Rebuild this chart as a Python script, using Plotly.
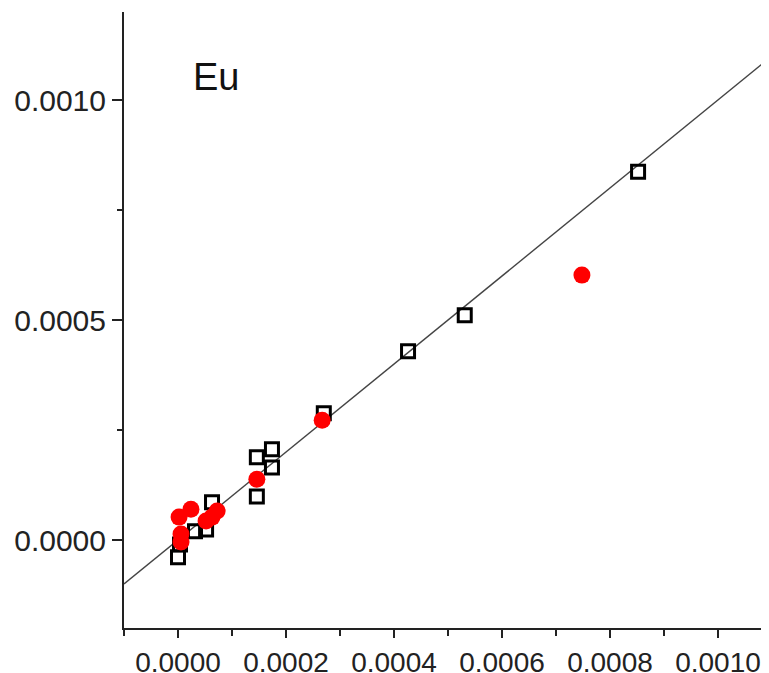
import plotly.graph_objects as go

# Black open squares
sq_x = [0.000852, 0.000531, 0.000426, 0.000270, 0.000174, 0.000146, 0.000174, 0.000146,
        0.000063, 0.000052, 0.0000315, 0.0, 0.0000037]
sq_y = [0.000837, 0.000511, 0.000429, 0.000288, 0.000206, 0.000188, 0.000165, 0.000099,
        0.000086, 0.000024, 0.000020, -0.000039, -0.000010]

# Red filled circles
rd_x = [0.000748, 0.000267, 0.000146, 0.000002, 0.000024, 0.0000725, 0.000063,
        0.0000056, 0.0000056, 0.000052]
rd_y = [0.000602, 0.000272, 0.000138, 0.000052, 0.000070, 0.000066, 0.000052,
        -0.0000045, 0.0000136, 0.000043]

# 1:1 reference line
line_x = [-0.0001, 0.0011]
line_y = [-0.0001, 0.0011]

x_ticks = [0.0, 0.0002, 0.0004, 0.0006, 0.0008, 0.0010]
x_minor = [-0.0001, 0.0001, 0.0003, 0.0005, 0.0007, 0.0009]
y_ticks = [0.0, 0.0005, 0.0010]
y_minor = [0.00025, 0.00075]

fig = go.Figure()
fig.add_trace(go.Scatter(x=line_x, y=line_y, mode="lines",
                         line=dict(color="#444444", width=1.4), showlegend=False))
fig.add_trace(go.Scatter(x=sq_x, y=sq_y, mode="markers",
                         marker=dict(symbol="square-open", size=13, color="black",
                                     line=dict(width=3, color="black")),
                         showlegend=False))
fig.add_trace(go.Scatter(x=rd_x, y=rd_y, mode="markers",
                         marker=dict(symbol="circle", size=17, color="#ff0000",
                                     line=dict(width=0)),
                         showlegend=False))

fig.add_annotation(x=0.0000, y=0.001053, xref="x", yref="y", text="Eu",
                   showarrow=False, xanchor="left", yanchor="middle",
                   xshift=13, font=dict(size=38, color="#111111", family="Liberation Sans"))

axis_common = dict(showgrid=False, zeroline=False, showline=True, linecolor="#222222",
                   linewidth=2, ticks="outside", tickwidth=2,
                   tickcolor="#222222", tickformat=".4f")

fig.update_layout(
    width=769, height=673,
    margin=dict(l=116, r=5, t=4, b=53),
    paper_bgcolor="white", plot_bgcolor="white",
    font=dict(family="Liberation Sans, Arial, sans-serif", color="#222222"),
    xaxis=dict(range=[-0.0001, 0.0011], tickvals=x_ticks, ticklen=8,
               tickfont=dict(size=28), **axis_common,
               minor=dict(tickvals=x_minor, ticks="outside", ticklen=6, tickwidth=2,
                          tickcolor="#222222")),
    yaxis=dict(range=[-0.0002, 0.0012], tickvals=y_ticks, ticklen=10,
               tickfont=dict(size=30), **axis_common,
               minor=dict(tickvals=y_minor, ticks="outside", ticklen=5, tickwidth=2,
                          tickcolor="#222222")),
)

fig.write_html("out.html")
